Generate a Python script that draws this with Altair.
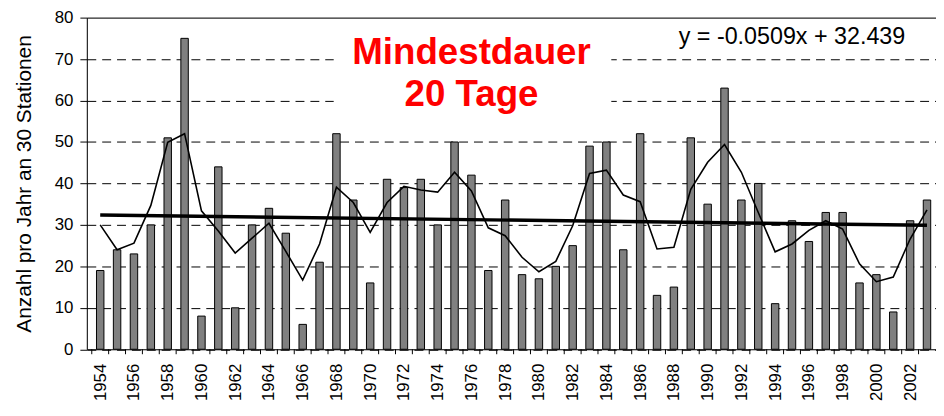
import altair as alt
import pandas as pd

years = list(range(1954, 2004))
counts = [19, 24, 23, 30, 51, 75, 8, 44, 10, 30,
          34, 28, 6, 21, 52, 36, 16, 41, 39, 41,
          30, 50, 42, 19, 36, 18, 17, 20, 25, 49,
          50, 24, 52, 13, 15, 51, 35, 63, 36, 40,
          11, 31, 26, 33, 33, 16, 18, 9, 31, 36]
smooth = [30.0, 24.0, 25.6, 34.7, 49.9, 52.0, 33.4, 28.5, 23.2, 26.8,
          30.4, 23.6, 16.7, 25.4, 39.1, 35.4, 28.2, 35.4, 39.3, 38.4,
          37.9, 42.7, 38.2, 29.3, 27.4, 22.2, 18.7, 21.2, 29.8, 42.4,
          43.2, 37.2, 35.6, 24.2, 24.6, 38.6, 45.1, 49.4, 42.7, 33.0,
          23.5, 25.4, 28.7, 31.0, 29.0, 20.6, 16.3, 17.4, 26.6, 33.6]
trend_years = [1954, 2003]
trend_values = [32.39, 29.89]
label_years = list(range(1954, 2003, 2))
tick_bounds = [y - 0.5 for y in range(1954, 2004)]
y_ticks = list(range(0, 81, 10))

title_text = "Mindestdauer\n20 Tage"
equation_text = "y = -0.0509x + 32.439"
y_title = "Anzahl pro Jahr an 30 Stationen"

FONT = "Liberation Sans"
W = 856.5
H = 334.5

df = pd.DataFrame({"year": years, "count": counts, "smooth": smooth})
df_trend = pd.DataFrame({"year": trend_years, "trend": trend_values})
df_ticks = pd.DataFrame({"b": tick_bounds})
df_one = pd.DataFrame({"title": [title_text], "eq": [equation_text]})

xscale = alt.Scale(domain=[1953.5, 2003.24], nice=False, zero=False)
yscale = alt.Scale(domain=[0, 80], nice=False)

xaxis = alt.Axis(values=label_years, labelAngle=-90, labelFontSize=17, labelColor="black",
                 ticks=False, domainColor="black", domainWidth=1, grid=False, title=None,
                 labelPadding=14, labelFont=FONT, format="d", labelOverlap=False)
yaxis = alt.Axis(values=y_ticks, grid=True, gridColor="black", gridWidth=1,
                 gridDash=alt.condition("datum.value == 80", alt.value([]), alt.value([9, 6])),
                 tickSize=7, tickColor="black", domainColor="black", labelFontSize=17,
                 labelColor="black", labelPadding=7, labelFont=FONT,
                 title=y_title, titleFontSize=21, titleFontWeight="normal", titleColor="black",
                 titleFont=FONT, titlePadding=20)

box = alt.Chart(df_one).mark_rect(fill="white").encode(
    x=alt.value(249), x2=alt.value(529), y=alt.value(4), y2=alt.value(110)
)

bars = alt.Chart(df).mark_bar(size=7.5, fill="#808080", stroke="black", strokeWidth=1).encode(
    x=alt.X("year:Q", scale=xscale, axis=xaxis),
    y=alt.Y("count:Q", scale=yscale, axis=yaxis),
)

line = alt.Chart(df).mark_line(color="black", strokeWidth=1.6).encode(
    x=alt.X("year:Q", scale=xscale, axis=xaxis),
    y=alt.Y("smooth:Q", scale=yscale, axis=yaxis),
)

trend = alt.Chart(df_trend).mark_line(color="black", strokeWidth=3.5).encode(
    x=alt.X("year:Q", scale=xscale, axis=xaxis),
    y=alt.Y("trend:Q", scale=yscale, axis=yaxis),
)

xticks = alt.Chart(df_ticks).mark_rule(color="black", strokeWidth=1).encode(
    x=alt.X("b:Q", scale=xscale, axis=xaxis),
    y=alt.value(H), y2=alt.value(H + 5),
)

title = alt.Chart(df_one).mark_text(
    lineBreak="\n", lineHeight=42, fontSize=37, fontWeight="bold",
    color="#ff0000", align="center", baseline="alphabetic", font=FONT
).encode(text="title:N", x=alt.value(388), y=alt.value(46.7))

equation = alt.Chart(df_one).mark_text(
    fontSize=23.5, color="black", align="left", baseline="alphabetic", font=FONT
).encode(text="eq:N", x=alt.value(597), y=alt.value(26.5))

chart = alt.layer(box, bars, line, trend, xticks, title, equation).properties(
    width=W, height=H,
    autosize=alt.AutoSizeParams(type="none"),
    padding={"left": 79.5, "top": 8, "right": 0, "bottom": 53},
).configure_view(stroke=None).configure(font=FONT)

chart.save("out.html", embed_options={"renderer": "svg", "actions": False})
